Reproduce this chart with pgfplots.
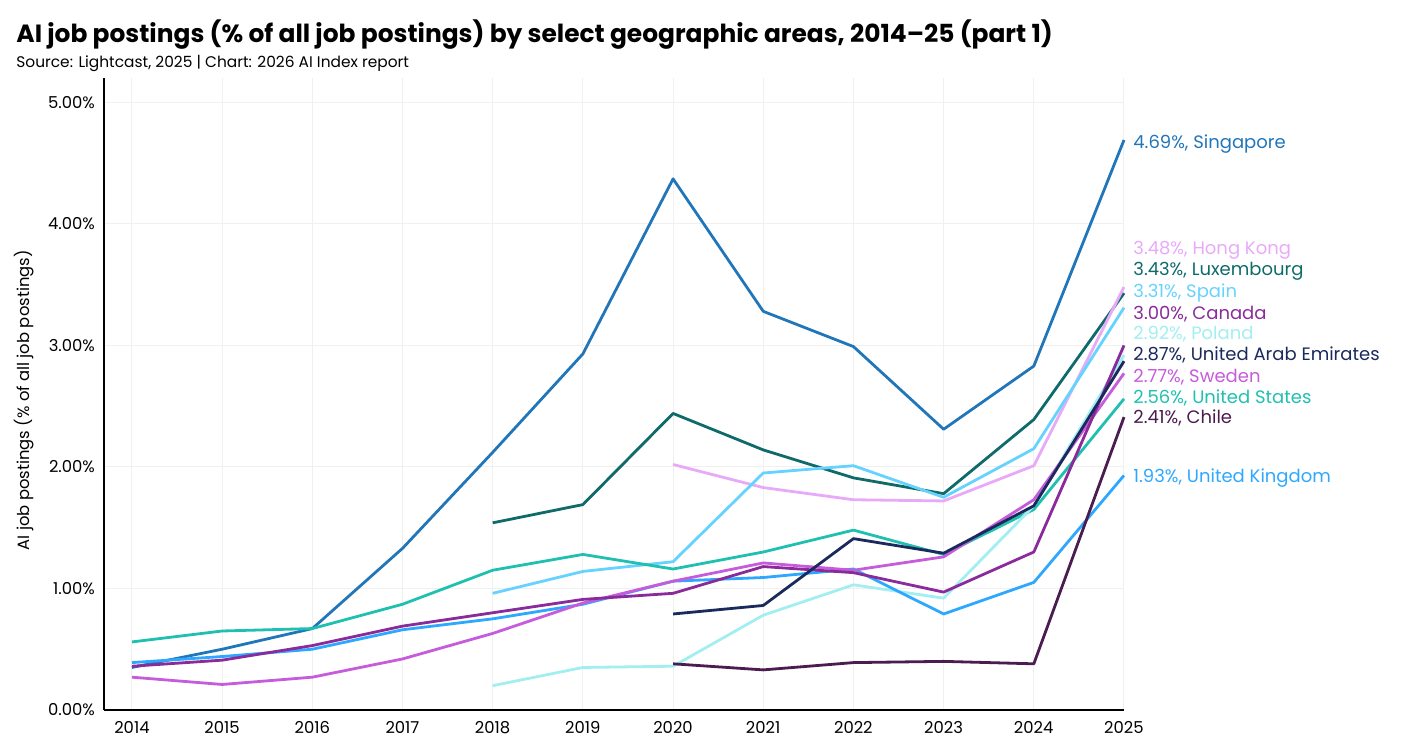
\documentclass[border=0pt]{standalone}
\usepackage{fontspec}
\setmainfont{Poppins}
\usepackage{pgfplots}
\pgfplotsset{compat=1.18}

\definecolor{sg}{HTML}{2176BA}
\definecolor{hk}{HTML}{E8AAF8}
\definecolor{lu}{HTML}{0F6B6A}
\definecolor{es}{HTML}{66D3FF}
\definecolor{ca}{HTML}{8A2A9B}
\definecolor{pl}{HTML}{A2EEF0}
\definecolor{ae}{HTML}{1B2A5C}
\definecolor{se}{HTML}{C65BDB}
\definecolor{us}{HTML}{20C0B0}
\definecolor{cl}{HTML}{4B1C50}
\definecolor{uk}{HTML}{2EA8FF}

\begin{document}
\begin{tikzpicture}
\path[use as bounding box] (-52pt,-19pt) rectangle (648.5pt,355pt);
\begin{axis}[
    at={(0,0)}, anchor=south west,
    scale only axis,
    width=510pt, height=316pt,
    xmin=2013.69, xmax=2025,
    ymin=0, ymax=5.2,
    axis lines*=left,
    axis line style={line width=1pt, black},
    major tick length=0pt,
    xtick={2014,...,2025},
    ytick={0,1,2,3,4,5},
    yticklabels={0.00\%,1.00\%,2.00\%,3.00\%,4.00\%,5.00\%},
    /pgf/number format/1000 sep={},
    /pgf/number format/assume math mode=true,
    ticklabel style={font=\fontsize{8.2pt}{10pt}\selectfont},
    yticklabel style={xshift=-1pt},
    xticklabel style={yshift=-2pt},
    grid=major,
    major grid style={black!6, line width=0.5pt},
    ylabel={AI job postings (\% of all job postings)},
    every axis y label/.style={at={(axis description cs:-0.078,0.49)}, rotate=90, anchor=center, font=\fontsize{8.2pt}{10pt}\selectfont},
    clip=false,
    every axis plot/.append style={line width=1.4pt, no markers, line join=round},
]
% Singapore
\addplot[sg] coordinates {(2014,0.35)(2015,0.50)(2016,0.67)(2017,1.33)(2018,2.12)(2019,2.93)(2020,4.37)(2021,3.28)(2022,2.99)(2023,2.31)(2024,2.83)(2025,4.69)};
% Luxembourg
\addplot[lu] coordinates {(2018,1.54)(2019,1.69)(2020,2.44)(2021,2.14)(2022,1.91)(2023,1.78)(2024,2.39)(2025,3.43)};
% Hong Kong
\addplot[hk] coordinates {(2020,2.02)(2021,1.83)(2022,1.73)(2023,1.72)(2024,2.01)(2025,3.48)};
% Spain
\addplot[es] coordinates {(2018,0.96)(2019,1.14)(2020,1.22)(2021,1.95)(2022,2.01)(2023,1.75)(2024,2.15)(2025,3.31)};
% United States
\addplot[us] coordinates {(2014,0.56)(2015,0.65)(2016,0.67)(2017,0.87)(2018,1.15)(2019,1.28)(2020,1.16)(2021,1.30)(2022,1.48)(2023,1.28)(2024,1.65)(2025,2.56)};
% Poland
\addplot[pl] coordinates {(2018,0.20)(2019,0.35)(2020,0.36)(2021,0.78)(2022,1.03)(2023,0.92)(2024,1.68)(2025,2.92)};
% United Kingdom
\addplot[uk] coordinates {(2014,0.39)(2015,0.44)(2016,0.50)(2017,0.66)(2018,0.75)(2019,0.87)(2020,1.06)(2021,1.09)(2022,1.16)(2023,0.79)(2024,1.05)(2025,1.93)};
% Sweden
\addplot[se] coordinates {(2014,0.27)(2015,0.21)(2016,0.27)(2017,0.42)(2018,0.63)(2019,0.88)(2020,1.06)(2021,1.21)(2022,1.15)(2023,1.26)(2024,1.73)(2025,2.77)};
% Canada
\addplot[ca] coordinates {(2014,0.36)(2015,0.41)(2016,0.53)(2017,0.69)(2018,0.80)(2019,0.91)(2020,0.96)(2021,1.18)(2022,1.13)(2023,0.97)(2024,1.30)(2025,3.00)};
% United Arab Emirates
\addplot[ae] coordinates {(2020,0.79)(2021,0.86)(2022,1.41)(2023,1.29)(2024,1.68)(2025,2.87)};
% Chile
\addplot[cl] coordinates {(2020,0.38)(2021,0.33)(2022,0.39)(2023,0.40)(2024,0.38)(2025,2.41)};

\begin{scope}[every node/.style={anchor=west, xshift=4.5pt, font=\fontsize{9pt}{10pt}\selectfont, inner sep=0pt}]
\node[text=sg] at (axis cs:2025,4.66) {4.69\%, Singapore};
\node[text=hk] at (axis cs:2025,3.78) {3.48\%, Hong Kong};
\node[text=lu] at (axis cs:2025,3.61) {3.43\%, Luxembourg};
\node[text=es] at (axis cs:2025,3.43) {3.31\%, Spain};
\node[text=ca] at (axis cs:2025,3.26) {3.00\%, Canada};
\node[text=pl] at (axis cs:2025,3.09) {2.92\%, Poland};
\node[text=ae] at (axis cs:2025,2.92) {2.87\%, United Arab Emirates};
\node[text=se] at (axis cs:2025,2.74) {2.77\%, Sweden};
\node[text=us] at (axis cs:2025,2.57) {2.56\%, United States};
\node[text=cl] at (axis cs:2025,2.40) {2.41\%, Chile};
\node[text=uk] at (axis cs:2025,1.91) {1.93\%, United Kingdom};
\end{scope}
\end{axis}
\node[anchor=base west, inner sep=0pt, font=\fontsize{12.45pt}{14pt}\selectfont\bfseries] at (-44pt,333.5pt) {AI job postings (\% of all job postings) by select geographic areas, 2014–25 (part 1)};
\node[anchor=base west, inner sep=0pt, font=\fontsize{7.7pt}{9pt}\selectfont] at (-44pt,321pt) {Source: Lightcast, 2025 | Chart: 2026 AI Index report};
\end{tikzpicture}
\end{document}
